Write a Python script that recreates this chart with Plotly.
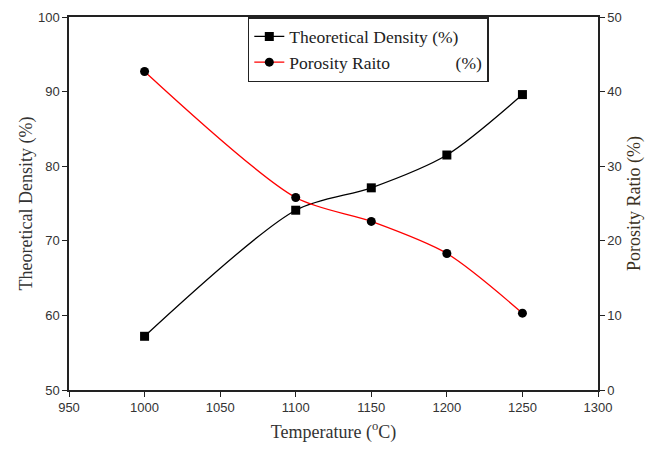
import plotly.graph_objects as go

temperature = [1000, 1100, 1150, 1200, 1250]
theoretical_density = [57.2, 74.1, 77.1, 81.5, 89.6]
porosity_ratio = [42.7, 25.8, 22.6, 18.3, 10.3]

x_ticks = [950, 1000, 1050, 1100, 1150, 1200, 1250, 1300]
left_ticks = [50, 60, 70, 80, 90, 100]
right_ticks = [0, 10, 20, 30, 40, 50]

serif = "Liberation Serif, Times New Roman, serif"
sans = "Liberation Sans, Arial, sans-serif"

fig = go.Figure()
fig.add_trace(go.Scatter(
    x=temperature, y=theoretical_density, name="Theoretical Density (%)",
    mode="lines+markers", line=dict(color="black", width=1.3, shape="spline", smoothing=0.8),
    marker=dict(symbol="square", size=9, color="black"), yaxis="y"))
fig.add_trace(go.Scatter(
    x=temperature, y=porosity_ratio, name="Porosity Raito" + "\u00a0" * 15 + "(%)",
    mode="lines+markers", line=dict(color="#ff0000", width=1.3, shape="spline", smoothing=0.8),
    marker=dict(symbol="circle", size=9, color="black"), yaxis="y2"))

fig.update_layout(
    width=660, height=450,
    margin=dict(l=61, r=70, t=9, b=68, autoexpand=False),
    paper_bgcolor="white", plot_bgcolor="white",
    showlegend=True,
    legend=dict(x=0.338, y=1, xanchor="left", yanchor="top",
                bordercolor="#222", borderwidth=1.5, bgcolor="white",
                font=dict(family=serif, size=17.5, color="#222"),
                tracegroupgap=0, itemwidth=30),
    xaxis=dict(range=[950, 1300], tickvals=x_ticks, ticks="outside", ticklen=5,
               tickcolor="#222", showline=True, linecolor="#222", linewidth=1.5,
               mirror=True, showgrid=False, zeroline=False, automargin=False,
               tickfont=dict(family=sans, size=13, color="#333"),
               title=dict(text="Temperature (<sup>o</sup>C)", font=dict(family=serif, size=18, color="#333"), standoff=11)),
    yaxis=dict(range=[50, 100], tickvals=left_ticks, ticks="outside", ticklen=5,
               tickcolor="#222", showline=True, linecolor="#222", linewidth=1.5,
               showgrid=False, zeroline=False, automargin=False,
               tickfont=dict(family=sans, size=13, color="#333"),
               title=dict(text="Theoretical Density (%)", font=dict(family=serif, size=18, color="#333"), standoff=1)),
    yaxis2=dict(range=[0, 50], tickvals=right_ticks, ticks="outside", ticklen=5,
                tickcolor="#222", showline=True, linecolor="#222", linewidth=1.5,
                overlaying="y", side="right", showgrid=False, zeroline=False, automargin=False,
                tickfont=dict(family=sans, size=13, color="#333"),
                title=dict(text="Porosity Ratio (%)", font=dict(family=serif, size=18, color="#3a3020"), standoff=7)),
)

fig.write_html("out.html")
